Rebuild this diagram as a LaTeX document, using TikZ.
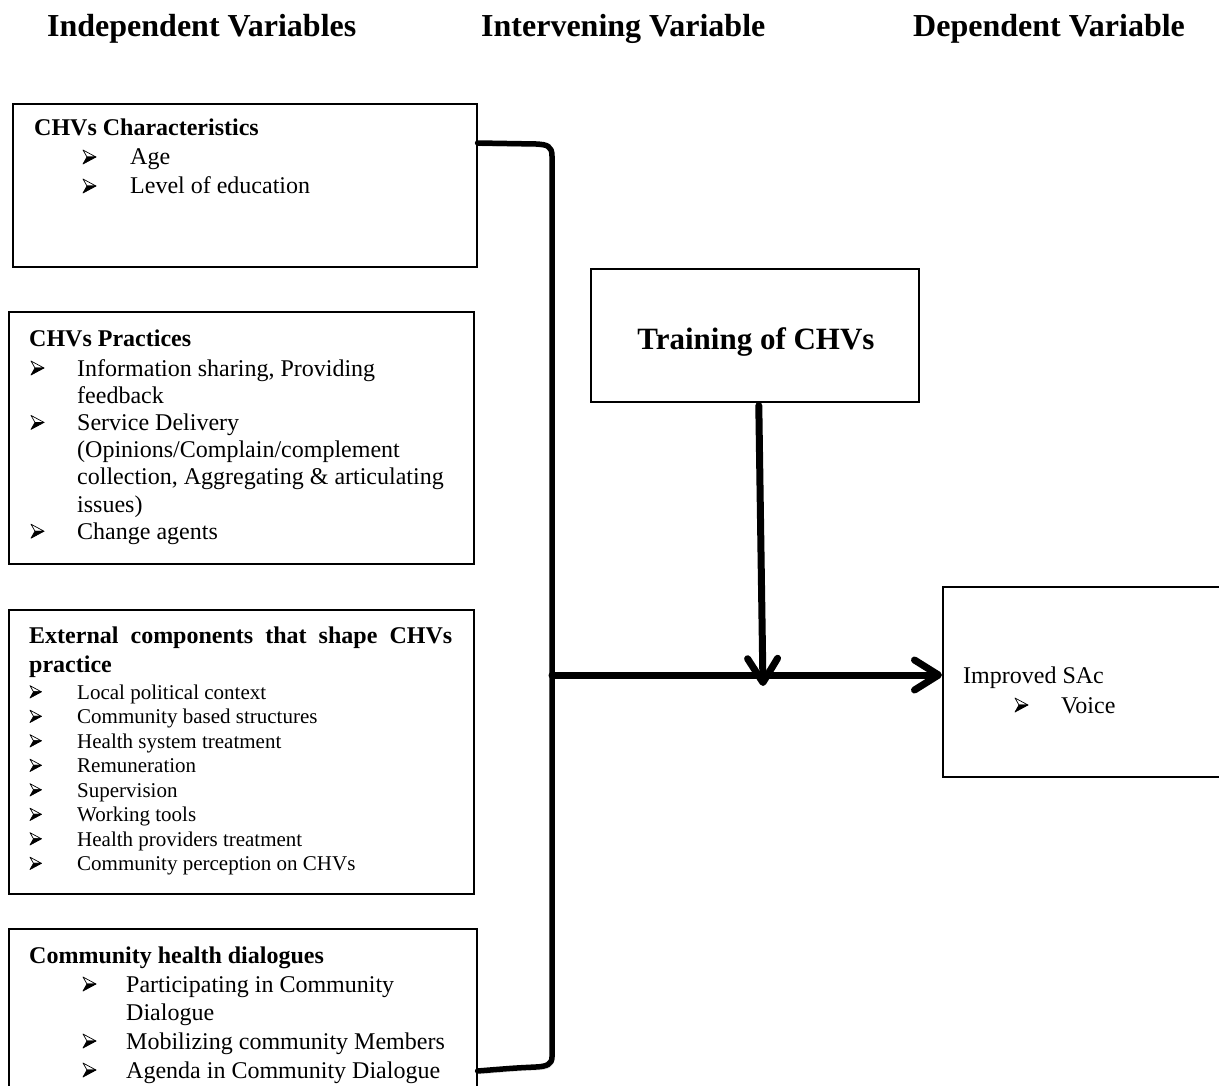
\documentclass[tikz,border=0pt]{standalone}
\usepackage{fontspec}
\setmainfont{Liberation Serif}
\usetikzlibrary{arrows.meta,calc}

\tikzset{
  box/.style={draw, line width=1.6pt, rectangle, inner sep=0pt, anchor=north west},
  txt/.style={anchor=base west, inner sep=0pt, font=\fontsize{24}{28}\selectfont},
  txtb/.style={txt, font=\fontsize{24}{28}\selectfont\bfseries},
  sml/.style={anchor=base west, inner sep=0pt, font=\fontsize{21}{24}\selectfont},
  hdr/.style={anchor=base west, inner sep=0pt, font=\fontsize{32}{36}\selectfont\bfseries},
  shade/.style={preaction={draw=black!18, transform canvas={shift={(1.5pt,-3pt)}}}},
  bracket/.style={line width=5.5pt, line cap=round, line join=round, shade},
  link/.style={line width=7pt, line cap=round, line join=round, shade,
    -{Straight Barb[length=24pt, width=30pt, round]}},
  % three-dimensional arrowhead bullet, origin at its lower back corner
  bul/.pic={
    \filldraw[line width=0.7pt, fill=white, line join=round] (0,-14) -- (13,-7) -- (4,-7) -- cycle;
    \filldraw[line width=0.7pt, fill=black, line join=round] (0,0) -- (13,-7) -- (4,-7) -- cycle;
  },
}

\begin{document}
\begin{tikzpicture}[x=1pt, y=-1pt]
\useasboundingbox (0,0) rectangle (1219,1086);
\clip (0,0) rectangle (1219,1086);
\fill[white] (0,0) rectangle (1219,1086);

% column headings
\node[hdr] (h1) at (47,37) {Independent Variables};
\node[hdr] (h2) at (481,37) {Intervening Variable};
\node[hdr] (h3) at (913,37) {Dependent Variable};

% independent variable boxes
\node[box, minimum width=464, minimum height=163] (b1) at (12,103) {};
\node[box, minimum width=465, minimum height=252] (b2) at (8,311) {};
\node[box, minimum width=465, minimum height=284] (b3) at (8,609) {};
\node[box, minimum width=468, minimum height=200] (b4) at (8,928) {};

% intervening and dependent boxes
\node[box, minimum width=328, minimum height=133] (tr) at (590,268) {};
\node[anchor=base, inner sep=0pt, font=\fontsize{31}{34}\selectfont\bfseries] (trt) at (756,349) {Training of CHVs};
\node[box, minimum width=300, minimum height=190] (imp) at (942,586) {};

% CHVs characteristics
\node[txtb] (t11) at (34,136) {CHVs Characteristics};
\pic (u12) at (83,164) {bul};
\node[txt] (t12) at (130,165) {Age};
\pic (u13) at (83,193) {bul};
\node[txt] (t13) at (130,194) {Level of education};

% CHVs practices
\node[txtb] (t21) at (29,346) {CHVs Practices};
\pic (u22) at (31,375) {bul};
\node[txt] (t22) at (77,376) {Information sharing, Providing};
\node[txt] (t23) at (77,403.2) {feedback};
\pic (u24) at (31,429.4) {bul};
\node[txt] (t24) at (77,430.4) {Service Delivery};
\node[txt] (t25) at (77,457.6) {(Opinions/Complain/complement};
\node[txt] (t26) at (77,484.8) {collection, Aggregating \& articulating};
\node[txt] (t27) at (77,512) {issues)};
\pic (u28) at (31,538.2) {bul};
\node[txt] (t28) at (77,539.2) {Change agents};

% external components
\node[txtb] (t31) at (29,643) {\makebox[423pt][s]{External components that shape CHVs}};
\node[txtb] (t32) at (29,672) {practice};
\foreach \k/\s in {0/Local political context, 1/Community based structures,
  2/Health system treatment, 3/Remuneration, 4/Supervision, 5/Working tools,
  6/Health providers treatment, 7/Community perception on CHVs}{
  \pic[scale=0.88] (u3\k) at (30,698+24.5*\k) {bul};
  \node[sml] (t3\k) at (77,699+24.5*\k) {\s};
}

% community health dialogues
\node[txtb] (t41) at (29,963) {Community health dialogues};
\pic (u42) at (83,991) {bul};
\node[txt] (t42) at (126,992) {Participating in Community};
\node[txt] (t43) at (126,1020.5) {Dialogue};
\pic (u44) at (83,1048) {bul};
\node[txt] (t44) at (126,1049) {Mobilizing community Members};
\pic (u45) at (83,1077) {bul};
\node[txt] (t45) at (126,1078) {Agenda in Community Dialogue};

% dependent variable text
\node[txt] (t51) at (963,683) {Improved SAc};
\pic (u52) at (1015,712) {bul};
\node[txt] (t52) at (1061,713) {Voice};

% bracket gathering the independent variables
\coordinate (bt) at ($(b1.north east)+(0,40)$);
\coordinate (bb) at ($(b4.north east)+(0,143)$);
\coordinate (join) at (552,675);
\draw[bracket] (bt) -- (536,144) .. controls (547,144.5) and (552,146) .. (552,156)
  -- (552,1057) .. controls (552,1064) and (547,1066.5) .. (536,1067)
  .. controls (515,1068) .. (bb);

% main relation to the dependent variable
\draw[link] (join) -- (join -| imp.west);

% moderating effect of training
\coordinate (mod) at (763,686);
\draw[link] ($(tr.south)+(4,3)$) -- (mod);
\end{tikzpicture}
\end{document}
